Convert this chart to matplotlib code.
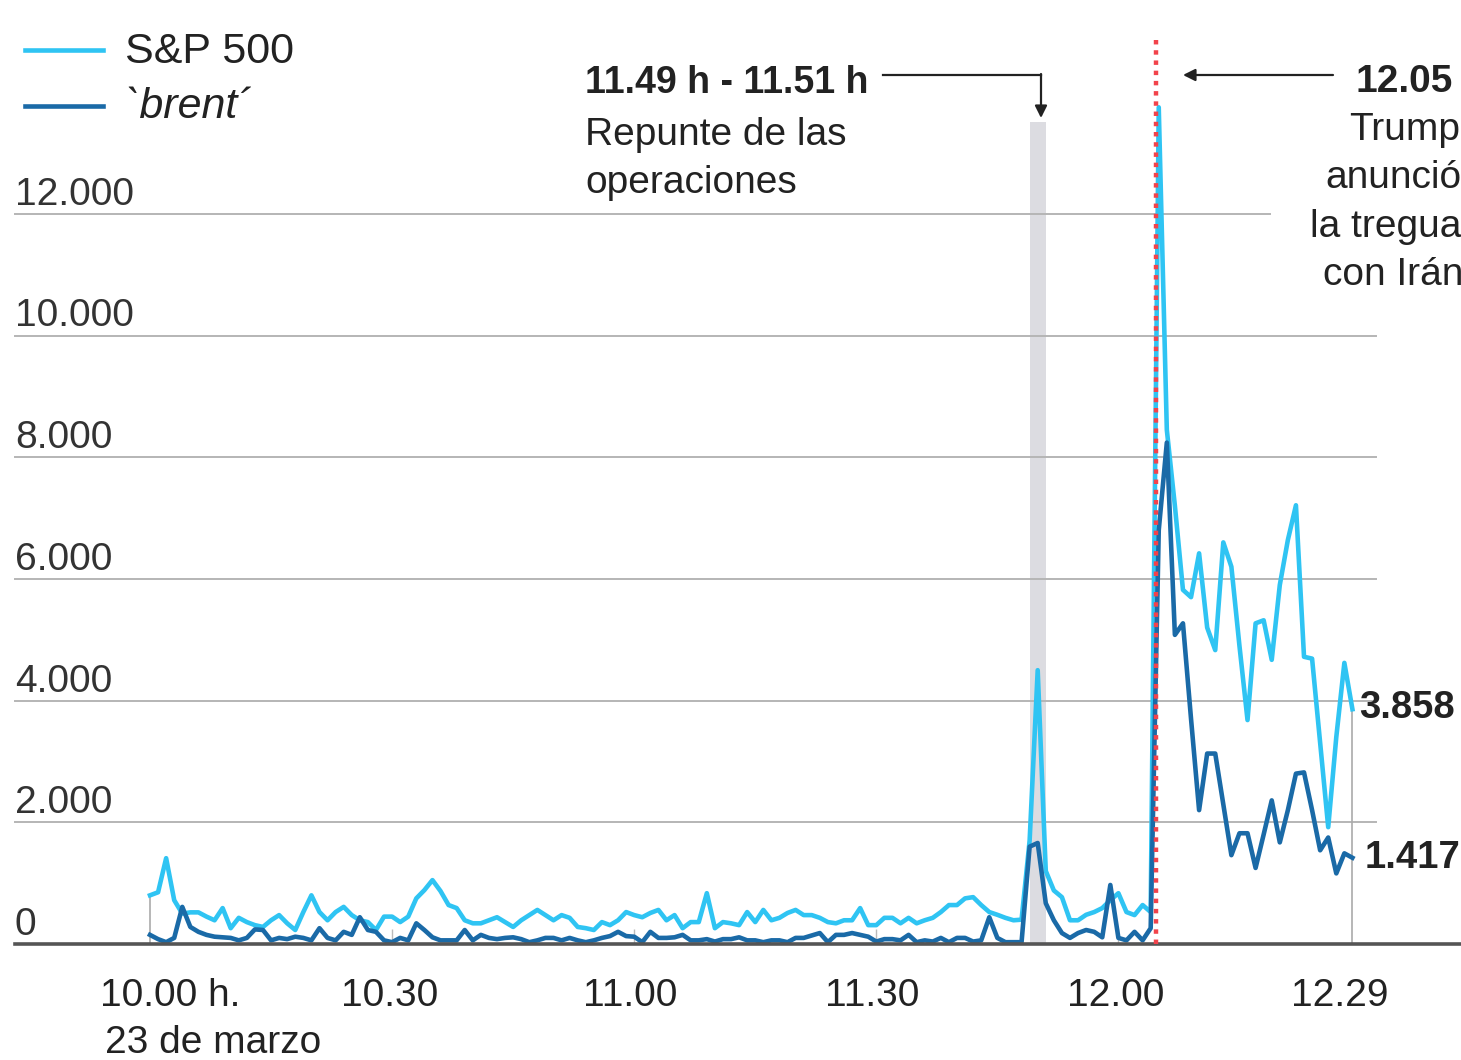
import matplotlib
matplotlib.use('Agg')
import matplotlib.pyplot as plt
from matplotlib.lines import Line2D
import numpy as np

plt.rcParams['font.family'] = ['Liberation Sans', 'DejaVu Sans']

# one value per minute, 10.00 h -> 12.29 h
sp500 = [800, 850, 1410, 720, 500, 520, 520, 450, 390, 590,
         260, 430, 360, 310, 280, 390, 475, 340, 230, 525,
         800, 525, 390, 525, 610, 475, 390, 360, 230, 450,
         450, 360, 450, 750, 885, 1050, 870, 640, 590, 390,
         340, 340, 390, 440, 360, 280, 390, 475, 560, 475,
         390, 475, 430, 280, 260, 230, 360, 310, 390, 525,
         475, 440, 510, 560, 390, 475, 260, 360, 360, 835,
         260, 360, 340, 310, 525, 360, 560, 390, 430, 510,
         560, 475, 475, 430, 360, 340, 390, 390, 590, 310,
         310, 430, 430, 340, 430, 340, 390, 430, 525, 640,
         640, 750, 770, 640, 525, 480, 430, 390, 400, 1700,
         4500, 1200, 880, 770, 390, 390, 480, 525, 590, 720,
         835, 525, 475, 640, 525, 13750, 8450, 7200, 5820, 5700,
         6420, 5200, 4830, 6600, 6200, 4900, 3680, 5270, 5320, 4670,
         5900, 6640, 7210, 4720, 4690, 3300, 1920, 3400, 4620, 3858]
brent = [150, 80, 30, 100, 610, 280, 200, 150, 120, 110,
         100, 60, 100, 240, 230, 60, 100, 80, 120, 100,
         60, 260, 100, 60, 200, 150, 440, 230, 200, 60,
         30, 100, 60, 340, 230, 110, 60, 60, 60, 230,
         60, 150, 100, 80, 100, 110, 80, 30, 60, 100,
         100, 60, 100, 60, 30, 60, 100, 130, 200, 130,
         120, 30, 200, 100, 100, 110, 150, 60, 60, 80,
         40, 80, 80, 110, 60, 60, 30, 60, 60, 30,
         100, 100, 140, 180, 30, 150, 150, 180, 150, 120,
         40, 80, 80, 60, 150, 30, 60, 40, 100, 30,
         100, 100, 40, 60, 440, 100, 30, 30, 30, 1600,
         1660, 670, 390, 180, 100, 180, 230, 200, 110, 970,
         100, 60, 200, 60, 260, 6800, 8240, 5080, 5270, 3700,
         2200, 3130, 3130, 2300, 1460, 1820, 1820, 1250, 1800, 2360,
         1670, 2200, 2800, 2820, 2200, 1540, 1750, 1160, 1490, 1417]
minutes = np.arange(len(sp500))

tick_minutes = [0, 30, 60, 90, 120, 149]
tick_labels = ['10.00 h.', '10.30', '11.00', '11.30', '12.00', '12.29']
grid_values = [0, 2000, 4000, 6000, 8000, 10000, 12000]
grid_labels = ['0', '2.000', '4.000', '6.000', '8.000', '10.000', '12.000']
band = (109, 111)      # 11.49 h - 11.51 h
truce = 124.6          # 12.05

LIGHT = '#2fc4f3'
DARK = '#1a6aa7'
TXT = '#222222'

W, H = 1461, 1060
PX_MIN = 8.07              # pixels per minute
PX_VAL = 121.7 / 2000      # pixels per unit
X0, Y0 = 150, 944          # pixel position of minute 0 / value 0
PT = 0.72                  # points per pixel at dpi 100
LW = 3.3

fig = plt.figure(figsize=(W / 100, H / 100), dpi=100)
ax = fig.add_axes([0, 0, 1, 1])
ax.set_xlim(-X0 / PX_MIN, (W - X0) / PX_MIN)
ax.set_ylim(-(H - Y0) / PX_VAL, Y0 / PX_VAL)
ax.axis('off')


def fx(px):
    return px / W


def fy(py):
    return 1 - py / H


# grid + baseline
for v in grid_values[1:]:
    right = 1270 if v == 12000 else 1376
    ax.axhline(v, xmin=fx(15), xmax=fx(right), color='#b5b5b5', lw=1.4, zorder=1)
ax.axhline(0, xmin=fx(15), xmax=1, color='#555555', lw=2.6, zorder=4)
for v, lab in zip(grid_values, grid_labels):
    ax.annotate(lab, xy=(fx(15), v), xycoords=('axes fraction', 'data'),
                xytext=(0, 9 * PT), textcoords='offset points',
                ha='left', va='baseline', fontsize=28, color='#333333')

# small ticks and drop lines
for m in tick_minutes[1:-1]:
    ax.vlines(m, 0, 15 / PX_VAL, color='#bbbbbb', lw=1, zorder=1)
ax.vlines(minutes[0], 0, sp500[0], color='#aaaaaa', lw=1.2, zorder=1)
ax.vlines(minutes[-1], 0, sp500[-1], color='#aaaaaa', lw=1.2, zorder=1)

# highlighted window
ax.axvspan(band[0], band[1], ymin=fy(Y0), ymax=fy(122), color='#dcdce1', lw=0, zorder=0)

ax.plot(minutes, sp500, color=LIGHT, lw=LW, zorder=3)
ax.plot(minutes, brent, color=DARK, lw=LW, zorder=3)

ax.vlines(truce, 0, (Y0 - 35) / PX_VAL, color='#f2434b', lw=3.2,
          linestyles=(0, (1, 1.3)), zorder=5)

# x labels
offsets = [0, -2, -4, -4, -3, -13]
for m, lab, off in zip(tick_minutes, tick_labels, offsets):
    if m == 0:
        ax.annotate(lab, xy=(m, 0), xytext=(-50 * PT, -62 * PT), textcoords='offset points',
                    ha='left', va='baseline', fontsize=28, color=TXT)
        ax.annotate('23 de marzo', xy=(m, 0), xytext=(-45 * PT, -109 * PT),
                    textcoords='offset points', ha='left', va='baseline', fontsize=28, color=TXT)
    else:
        ax.annotate(lab, xy=(m, 0), xytext=(off * PT, -62 * PT), textcoords='offset points',
                    ha='center', va='baseline', fontsize=28, color=TXT)

# end values
ax.annotate(f'{sp500[-1]:,}'.replace(',', '.'), xy=(minutes[-1], sp500[-1]),
            xytext=(7 * PT, -9 * PT), textcoords='offset points',
            ha='left', va='baseline', fontsize=27.5, fontweight='bold', color=TXT)
ax.annotate(f'{brent[-1]:,}'.replace(',', '.'), xy=(minutes[-1], brent[-1]),
            xytext=(12 * PT, -10 * PT), textcoords='offset points',
            ha='left', va='baseline', fontsize=27.5, fontweight='bold', color=TXT)

# legend
fig.add_artist(Line2D([fx(25), fx(103)], [fy(50), fy(50)], color=LIGHT, lw=LW))
fig.add_artist(Line2D([fx(25), fx(103)], [fy(106), fy(106)], color=DARK, lw=LW))
fig.text(fx(125), fy(63), 'S&P 500', fontsize=31, color=TXT, va='baseline')
fig.text(fx(125), fy(118), '`brent´', fontsize=31, color=TXT, va='baseline', style='italic')

# annotation: 11.49 - 11.51
fig.text(fx(585), fy(93), '11.49 h - 11.51 h', fontsize=27, fontweight='bold', color=TXT, va='baseline')
fig.text(fx(585), fy(145), 'Repunte de las', fontsize=28, color=TXT, va='baseline')
fig.text(fx(585), fy(193), 'operaciones', fontsize=28, color=TXT, va='baseline')
fig.add_artist(Line2D([fx(883), fx(1041)], [fy(75), fy(75)], color=TXT, lw=1.6))
ax.annotate('', xy=(fx(1041), fy(118)), xycoords='figure fraction',
            xytext=(fx(1041), fy(74)), textcoords='figure fraction',
            arrowprops=dict(arrowstyle='-|>', color=TXT, lw=1.6, mutation_scale=18,
                            shrinkA=0, shrinkB=0))

# annotation: 12.05
fig.text(fx(1355), fy(92), '12.05', fontsize=28, fontweight='bold', color=TXT, va='baseline')
for txt, left, base in [('Trump', 1349, 140), ('anunció', 1325, 188),
                        ('la tregua', 1310, 237), ('con Irán', 1323, 285)]:
    fig.text(fx(left), fy(base), txt, fontsize=28, color=TXT, va='baseline')
ax.annotate('', xy=(fx(1183), fy(75)), xycoords='figure fraction',
            xytext=(fx(1333), fy(75)), textcoords='figure fraction',
            arrowprops=dict(arrowstyle='-|>', color=TXT, lw=1.6, mutation_scale=18,
                            shrinkA=0, shrinkB=0))

fig.savefig('out.png', dpi=100)
